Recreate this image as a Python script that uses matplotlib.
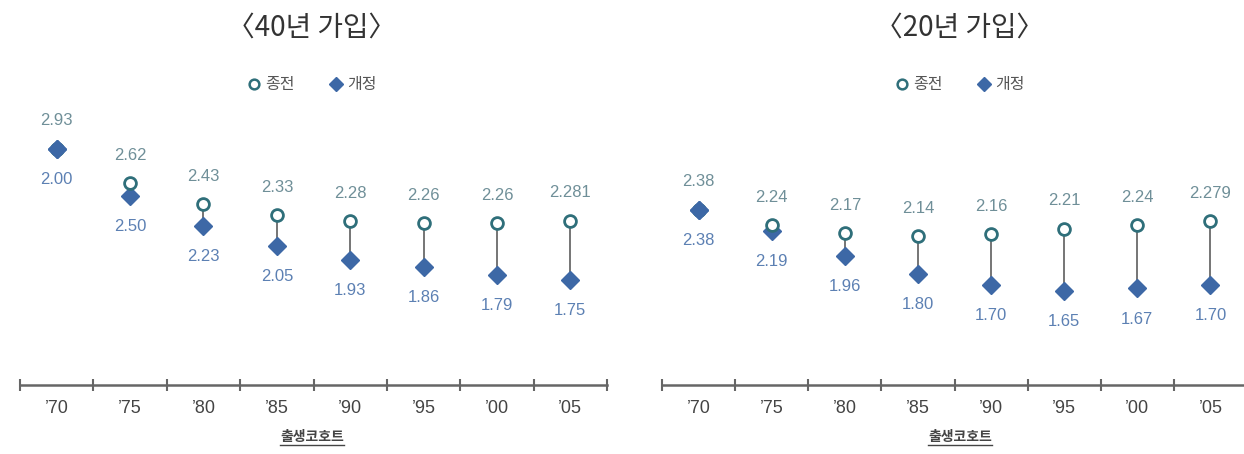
import numpy as np
import matplotlib.pyplot as plt
from matplotlib import font_manager
from matplotlib.lines import Line2D

installed = {f.name for f in font_manager.fontManager.ttflist}
num_font = 'Liberation Sans Narrow' if 'Liberation Sans Narrow' in installed else 'Liberation Sans'
kr_font = 'Noto Sans CJK KR'
plt.rcParams['font.family'] = [num_font, kr_font, 'DejaVu Sans']

cohorts = ["'70", "'75", "'80", "'85", "'90", "'95", "'00", "'05"]

# 40년 가입
old40 = [2.93, 2.62, 2.43, 2.33, 2.28, 2.26, 2.26, 2.281]
new40 = [2.93, 2.50, 2.23, 2.05, 1.93, 1.86, 1.79, 1.75]
old40_lbl = ['2.93', '2.62', '2.43', '2.33', '2.28', '2.26', '2.26', '2.281']
new40_lbl = ['2.00', '2.50', '2.23', '2.05', '1.93', '1.86', '1.79', '1.75']

# 20년 가입
old20 = [2.38, 2.24, 2.17, 2.14, 2.16, 2.21, 2.24, 2.279]
new20 = [2.38, 2.19, 1.96, 1.80, 1.70, 1.65, 1.67, 1.70]
old20_lbl = ['2.38', '2.24', '2.17', '2.14', '2.16', '2.21', '2.24', '2.279']
new20_lbl = ['2.38', '2.19', '1.96', '1.80', '1.70', '1.65', '1.67', '1.70']

titles = ['〈40년 가입〉', '〈20년 가입〉']

C_OLD = '#2f6f7a'
C_OLD_TXT = '#6f8f98'
C_NEW = '#3d68a6'
C_NEW_TXT = '#5c80b3'
C_LINE = '#6a6a6a'

W, H = 1244, 454
fig = plt.figure(figsize=(W / 100, H / 100), dpi=100)
fig.patch.set_facecolor('white')

panels = [
    (20, 587, 312, old40, new40, old40_lbl, new40_lbl, titles[0]),
    (662, 585, 960, old20, new20, old20_lbl, new20_lbl, titles[1]),
]

x = np.arange(len(cohorts))
for left, width, cx, old, new, old_lbl, new_lbl, title in panels:
    ax = fig.add_axes([left / W, 69 / H, width / W, 325 / H])
    ax.set_xlim(-0.5, 7.5)
    ax.set_ylim(0.80, 3.73)
    ax.patch.set_alpha(0)
    ax.vlines(x, new, old, color=C_LINE, lw=1.3, zorder=1)
    ax.plot(x, new, 'D', color=C_NEW, ms=9, ls='none', zorder=2)
    ax.plot(x, old, 'o', mfc='white', mec=C_OLD, mew=2.0, ms=8.5, ls='none', zorder=3)
    ax.plot(x[:1], new[:1], 'D', color=C_NEW, ms=9, ls='none', zorder=4)
    for i in range(len(cohorts)):
        ax.annotate(old_lbl[i], (x[i], old[i]), xytext=(0, 20), textcoords='offset points',
                    ha='center', va='center', fontsize=12, color=C_OLD_TXT)
        ax.annotate(new_lbl[i], (x[i], new[i]), xytext=(0, -22), textcoords='offset points',
                    ha='center', va='center', fontsize=12, color=C_NEW_TXT)
    for s in ['top', 'right', 'left']:
        ax.spines[s].set_visible(False)
    ax.spines['bottom'].set_color('#666666')
    ax.spines['bottom'].set_linewidth(1.8)
    ax.set_yticks([])
    ax.set_xticks(x)
    ax.set_xticklabels(['’' + c[1:] for c in cohorts])
    ax.set_xticks(np.arange(-0.5, 8, 1), minor=True)
    ax.tick_params(axis='x', which='major', length=0, pad=11, labelsize=13, labelcolor='#444444')
    ax.tick_params(axis='x', which='minor', direction='inout', length=8, width=1.5, color='#666666')

    handles = [Line2D([], [], marker='o', mfc='white', mec=C_OLD, mew=1.8, ms=7, ls='none'),
               Line2D([], [], marker='D', color=C_NEW, ms=7.5, ls='none')]
    fig.legend(handles, ['종전', '개정'], loc='center', bbox_to_anchor=(cx / W, 1 - 85 / H),
               ncol=2, frameon=False, handlelength=0.8, handletextpad=0.3, columnspacing=2.2,
               prop={'family': kr_font, 'size': 11.5}, labelcolor='#555555')

    fig.text(cx / W, 1 - 28 / H, title, ha='center', va='center', fontsize=20,
             family=kr_font, color='#333333')
    t = fig.text(cx / W, 1 - 437 / H, '출생코호트', ha='center', va='center', fontsize=10,
                 family=kr_font, color='#444444', fontweight='bold')
    fig.canvas.draw()
    bb = t.get_window_extent()
    fig.add_artist(Line2D([bb.x0 / W, bb.x1 / W], [(bb.y0 - 1) / H, (bb.y0 - 1) / H],
                          transform=fig.transFigure, color='#444444', lw=1.0))

fig.savefig('out.png', dpi=100)
